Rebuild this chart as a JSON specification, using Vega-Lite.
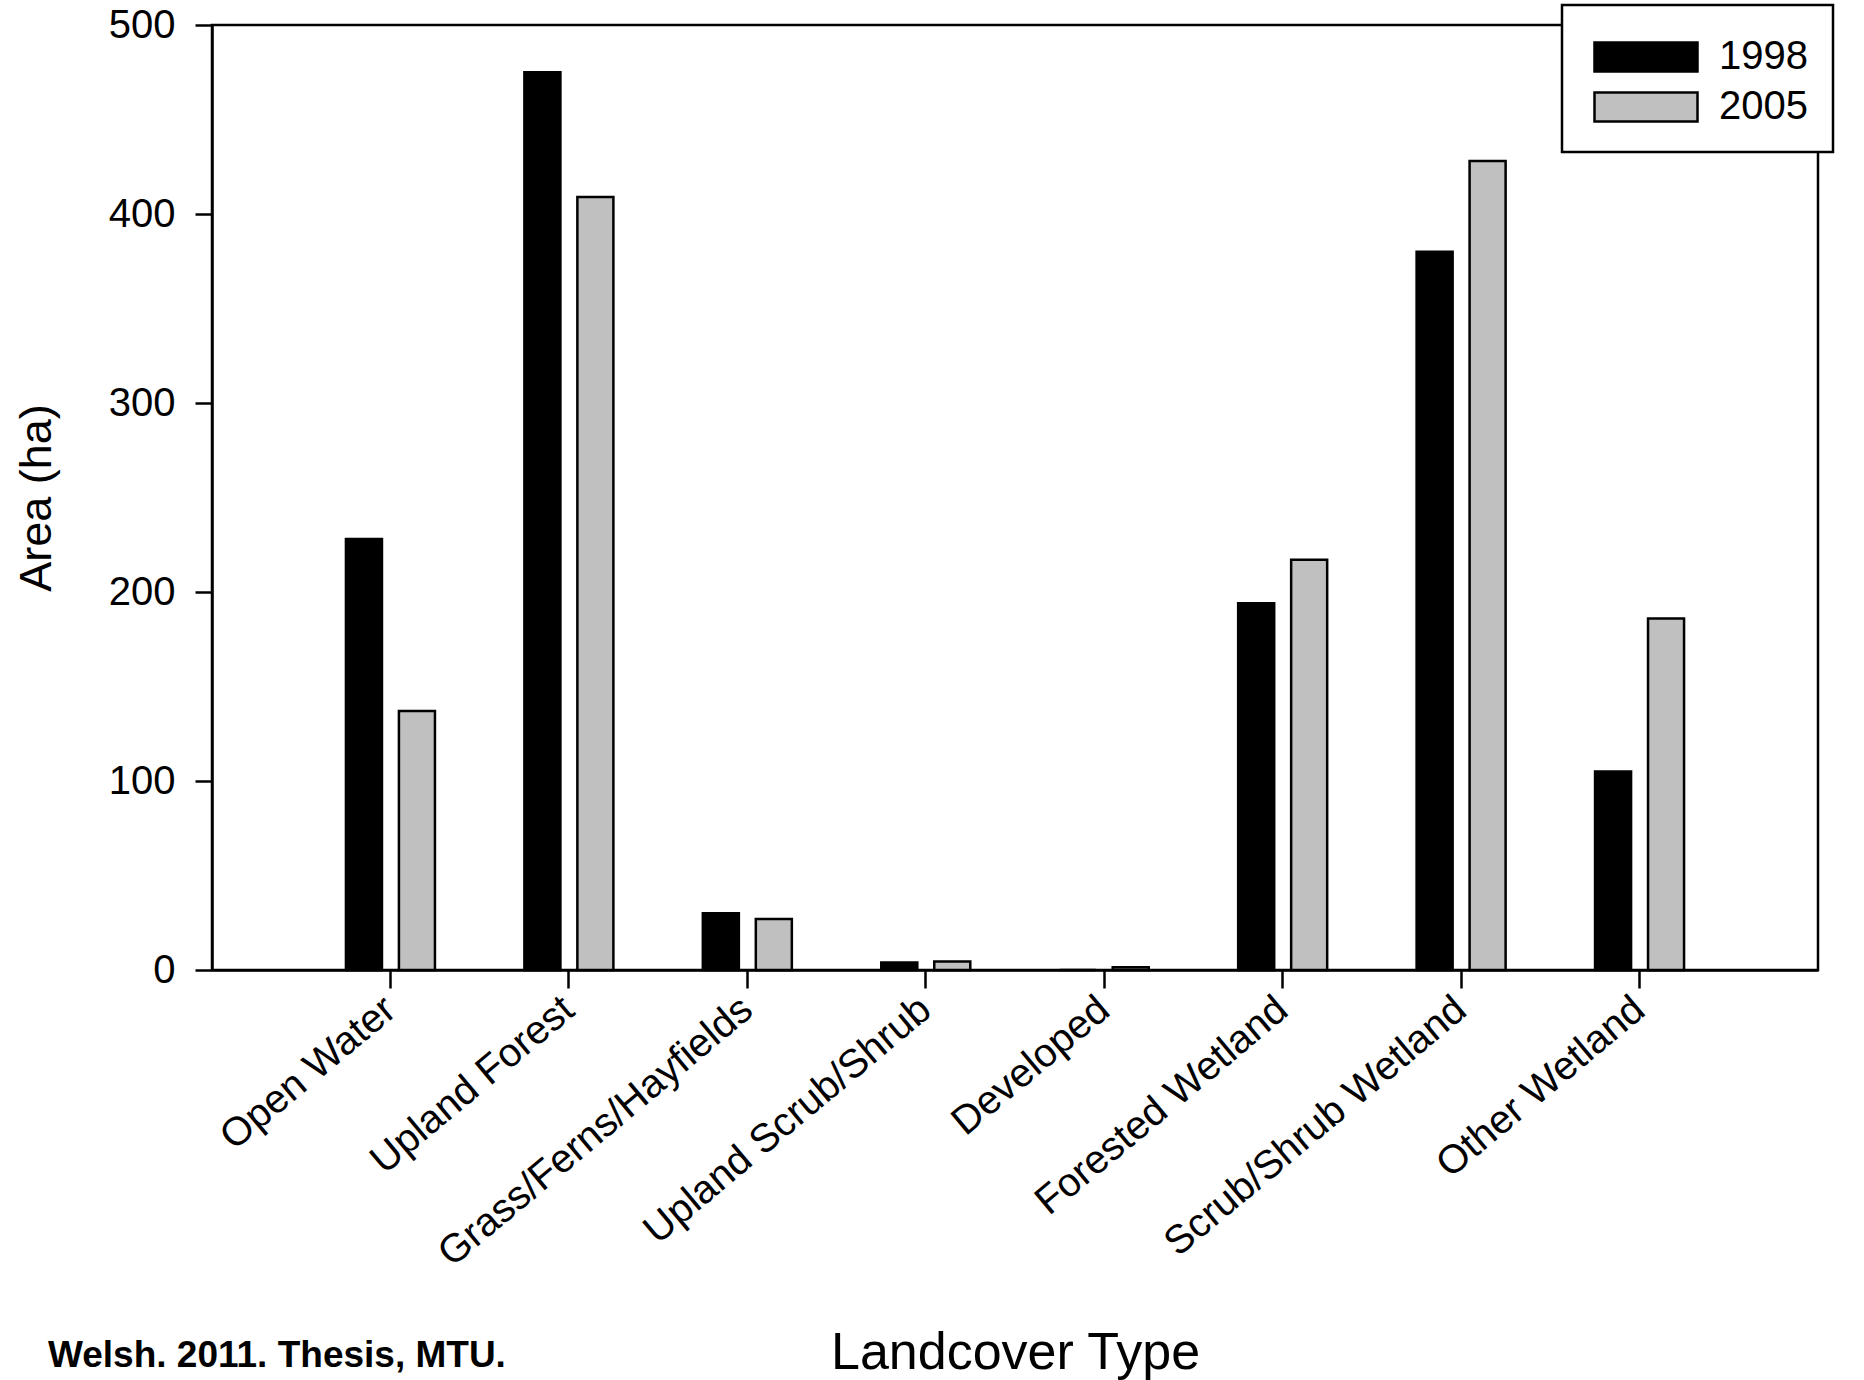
{
  "$schema": "https://vega.github.io/schema/vega-lite/v6.json",
  "autosize": {"type": "none"},
  "padding": {"left": 212, "top": 25, "right": 46, "bottom": 410},
  "width": 1606,
  "height": 945,
  "background": "white",
  "config": {
    "font": "Liberation Sans",
    "view": {"stroke": "black", "strokeWidth": 2.5},
    "axis": {"grid": false, "domainColor": "black", "domainWidth": 2.5, "tickColor": "black", "tickWidth": 2.5, "labelColor": "black", "titleColor": "black", "labelFont": "Liberation Sans", "titleFont": "Liberation Sans", "titleFontWeight": "normal"}
  },
  "title": {
    "text": "Welsh. 2011. Thesis, MTU.",
    "orient": "bottom",
    "anchor": "start",
    "frame": "group",
    "font": "Liberation Sans",
    "fontSize": 37,
    "fontWeight": "bold",
    "color": "black",
    "dx": -164,
    "dy": -40,
    "offset": 0
  },
  "data": {
    "values": [
      {"type": "Open Water", "year": "1998", "area": 228},
      {"type": "Open Water", "year": "2005", "area": 137},
      {"type": "Upland Forest", "year": "1998", "area": 475},
      {"type": "Upland Forest", "year": "2005", "area": 409},
      {"type": "Grass/Ferns/Hayfields", "year": "1998", "area": 30},
      {"type": "Grass/Ferns/Hayfields", "year": "2005", "area": 27},
      {"type": "Upland Scrub/Shrub", "year": "1998", "area": 4},
      {"type": "Upland Scrub/Shrub", "year": "2005", "area": 4.5},
      {"type": "Developed", "year": "1998", "area": 0},
      {"type": "Developed", "year": "2005", "area": 1.5},
      {"type": "Forested Wetland", "year": "1998", "area": 194},
      {"type": "Forested Wetland", "year": "2005", "area": 217},
      {"type": "Scrub/Shrub Wetland", "year": "1998", "area": 380},
      {"type": "Scrub/Shrub Wetland", "year": "2005", "area": 428},
      {"type": "Other Wetland", "year": "1998", "area": 105},
      {"type": "Other Wetland", "year": "2005", "area": 186}
    ]
  },
  "mark": {"type": "bar", "stroke": "black", "strokeWidth": 2.5},
  "encoding": {
    "x": {
      "field": "type",
      "type": "nominal",
      "sort": null,
      "scale": {"paddingInner": 0, "paddingOuter": 0.5},
      "axis": {
        "title": "Landcover Type",
        "titleFontSize": 52,
        "titleY": 382,
        "titleBaseline": "middle",
        "labelAngle": -40,
        "labelAlign": "right",
        "labelBaseline": "middle",
        "labelFontSize": 40,
        "labelPadding": 16,
        "tickSize": 18,
        "labelLimit": 0
      }
    },
    "xOffset": {
      "field": "year",
      "type": "nominal",
      "scale": {"paddingInner": 0.32, "paddingOuter": 0.844}
    },
    "y": {
      "field": "area",
      "type": "quantitative",
      "scale": {"domain": [0, 500], "nice": false},
      "axis": {
        "title": "Area (ha)",
        "titleFontSize": 45,
        "titleX": -176,
        "titleBaseline": "middle",
        "titleAngle": -90,
        "values": [0, 100, 200, 300, 400, 500],
        "labelFontSize": 40,
        "labelPadding": 20,
        "tickSize": 17
      }
    },
    "fill": {
      "field": "year",
      "type": "nominal",
      "scale": {"domain": ["1998", "2005"], "range": ["#000000", "#c0c0c0"]},
      "legend": {
        "title": null,
        "orient": "none",
        "legendX": 1350,
        "legendY": -20,
        "padding": 25,
        "fillColor": "white",
        "strokeColor": "black",
        "symbolType": "M-2,-0.563L2,-0.563L2,0.563L-2,0.563Z",
        "symbolSize": 2652,
        "symbolStrokeColor": "black",
        "symbolStrokeWidth": 2.5,
        "symbolOffset": 32,
        "labelFontSize": 40,
        "labelColor": "black",
        "labelOffset": 46,
        "rowPadding": 3,
        "encode": {"legend": {"update": {"strokeWidth": {"value": 2.5}}}}
      }
    }
  }
}
